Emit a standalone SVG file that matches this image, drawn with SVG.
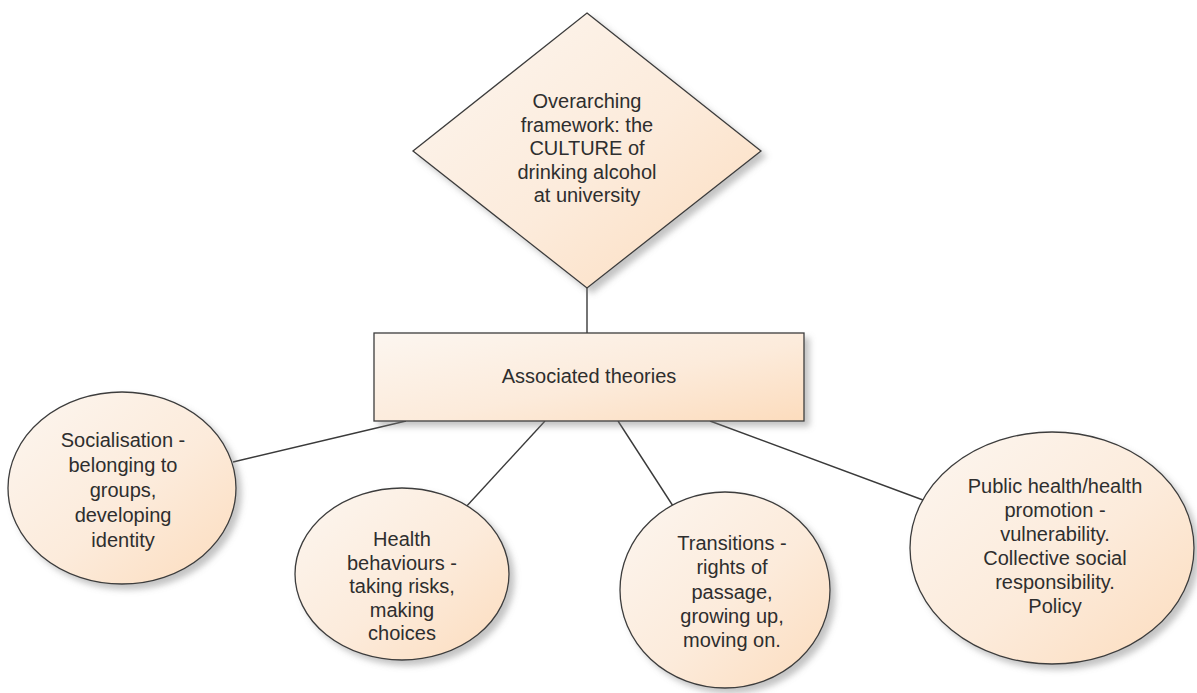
<svg xmlns="http://www.w3.org/2000/svg" width="1197" height="693" viewBox="0 0 1197 693">
<defs>
<linearGradient id="peach" x1="0" y1="0" x2="1" y2="1">
<stop offset="0" stop-color="#fcf6f0"/>
<stop offset="0.55" stop-color="#fcebdb"/>
<stop offset="1" stop-color="#fcdcbd"/>
</linearGradient>
<filter id="shadow" x="-10%" y="-10%" width="125%" height="125%">
<feDropShadow dx="5" dy="5" stdDeviation="3" flood-color="#7a7a7a" flood-opacity="0.45"/>
</filter>
<style>
.shape{fill:url(#peach);stroke:#3c3c3c;stroke-width:1.3;filter:url(#shadow);}
.conn{stroke:#3a3a3a;stroke-width:1.4;fill:none;}
text{font-family:"Liberation Sans",Arial,sans-serif;font-size:20px;fill:#2e2e2e;text-anchor:middle;}
</style>
</defs>
<rect width="1197" height="693" fill="#ffffff"/>
<g id="connectors">
<line class="conn" x1="587" y1="288" x2="587" y2="333"/>
<line class="conn" x1="406" y1="421" x2="233" y2="462"/>
<line class="conn" x1="545" y1="421" x2="465" y2="508"/>
<line class="conn" x1="618" y1="421" x2="673" y2="506"/>
<line class="conn" x1="710" y1="421" x2="923" y2="500"/>
</g>
<g id="framework">
<polygon class="shape" points="587,13 761,151 587,288 413,151"/>
<text x="587" y="108">Overarching</text>
<text x="587" y="131.5">framework: the</text>
<text x="587" y="155">CULTURE of</text>
<text x="587" y="178.5">drinking alcohol</text>
<text x="587" y="202">at university</text>
</g>
<g id="theories">
<rect class="shape" x="374" y="333" width="430" height="88"/>
<text x="589" y="383">Associated theories</text>
</g>
<g id="socialisation">
<ellipse class="shape" cx="122" cy="488" rx="114" ry="96"/>
<text x="123" y="447">Socialisation -</text>
<text x="123" y="472">belonging to</text>
<text x="123" y="497">groups,</text>
<text x="123" y="522">developing</text>
<text x="123" y="547">identity</text>
</g>
<g id="health">
<ellipse class="shape" cx="402" cy="574" rx="107" ry="86"/>
<text x="402" y="546">Health</text>
<text x="402" y="569.5">behaviours -</text>
<text x="402" y="593">taking risks,</text>
<text x="402" y="616.5">making</text>
<text x="402" y="640">choices</text>
</g>
<g id="transitions">
<ellipse class="shape" cx="725" cy="590" rx="105" ry="98"/>
<text x="732" y="550">Transitions -</text>
<text x="732" y="574">rights of</text>
<text x="732" y="598.5">passage,</text>
<text x="732" y="623">growing up,</text>
<text x="732" y="647">moving on.</text>
</g>
<g id="publichealth">
<ellipse class="shape" cx="1052" cy="548" rx="142" ry="116"/>
<text x="1055" y="493">Public health/health</text>
<text x="1055" y="517">promotion -</text>
<text x="1055" y="541">vulnerability.</text>
<text x="1055" y="565">Collective social</text>
<text x="1055" y="589">responsibility.</text>
<text x="1055" y="613">Policy</text>
</g>
</svg>
